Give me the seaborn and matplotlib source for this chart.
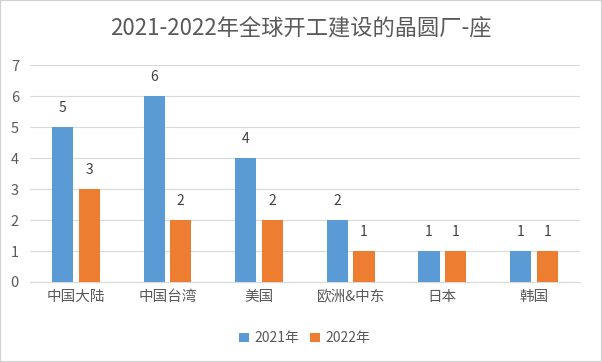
import pandas as pd
import matplotlib.pyplot as plt
import seaborn as sns

regions = ['中国大陆', '中国台湾', '美国', '欧洲&中东', '日本', '韩国']
fabs_2021 = [5, 6, 4, 2, 1, 1]
fabs_2022 = [3, 2, 2, 1, 1, 1]
years = ['2021年', '2022年']

df = pd.DataFrame({
    'region': regions * 2,
    'count': fabs_2021 + fabs_2022,
    'year': [years[0]] * len(regions) + [years[1]] * len(regions),
})

sns.set_style('white')
plt.rcParams['font.family'] = ['Noto Sans CJK SC', 'DejaVu Sans']

grey = '#595959'
fig = plt.figure(figsize=(6.02, 3.62), dpi=100)
ax = fig.add_axes([0.05, 0.221, 0.913, 0.599])

sns.barplot(data=df, x='region', y='count', hue='year', ax=ax,
            palette=['#5B9BD5', '#ED7D31'], width=0.58, gap=0.2,
            saturation=1, linewidth=0, zorder=3)

for c in ax.containers:
    ax.bar_label(c, padding=9, fontsize=10, color='#404040')

ax.set_ylim(0, 7)
ax.set_yticks(range(0, 8))
ax.yaxis.grid(True, color='#D9D9D9', linewidth=0.8, zorder=0)
ax.set_xlabel('')
ax.set_ylabel('')
ax.tick_params(axis='y', colors=grey, labelsize=10.5, length=0, pad=8)
ax.tick_params(axis='x', colors=grey, labelsize=10.5, length=0, pad=6)
for s in ['top', 'right', 'left']:
    ax.spines[s].set_visible(False)
ax.spines['bottom'].set_color('#D9D9D9')

ax.legend(loc='upper center', bbox_to_anchor=(0.5, -0.17), ncol=2, frameon=False,
          fontsize=10, labelcolor=grey, handlelength=0.7, handleheight=0.7,
          handletextpad=0.4, columnspacing=0.8)

fig.suptitle('2021-2022年全球开工建设的晶圆厂-座', y=0.955, fontsize=16, color=grey)

fig.patches.append(plt.Rectangle((0, 0), 1, 1, transform=fig.transFigure,
                                 fill=False, edgecolor='#D0D0D0', linewidth=1.5))

fig.savefig('out.png', dpi=100)
